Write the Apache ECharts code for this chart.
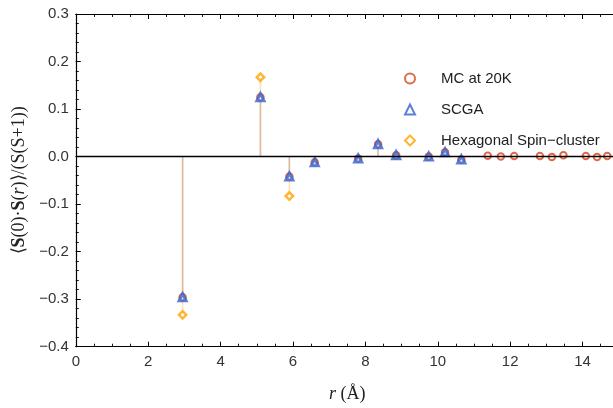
<!DOCTYPE html>
<html>
<head>
<meta charset="utf-8">
<script src="https://cdn.jsdelivr.net/npm/echarts@6/dist/echarts.min.js"></script>
<style>html,body{margin:0;padding:0;background:#fff}#c{width:613px;height:408px}</style>
</head>
<body>
<div id="c"></div>
<script>
// Distances r (Å)
const rMC = [2.95, 5.1, 5.9, 6.6, 7.8, 8.35, 8.85, 9.75, 10.2, 10.65, 11.38, 11.74, 12.11, 12.82, 13.15, 13.47, 14.09, 14.40, 14.68];
const mcVals = [-0.296, 0.125, -0.042, -0.012, -0.004, 0.026, 0.003, 0.000, 0.009, -0.006, 0.002, 0.000, 0.001, 0.001, -0.001, 0.003, 0.001, -0.001, 0.001];
const rSCGA = [2.95, 5.1, 5.9, 6.6, 7.8, 8.35, 8.85, 9.75, 10.2, 10.65];
const scgaVals = [-0.296, 0.125, -0.042, -0.012, -0.004, 0.026, 0.003, 0.000, 0.009, -0.006];
const rHex = [2.95, 5.1, 5.9];
const hexVals = [-0.333, 0.167, -0.083];
const seriesNames = ['MC at 20K', 'SCGA', 'Hexagonal Spin\u2212cluster'];
const xTicks = [0, 2, 4, 6, 8, 10, 12, 14];
const yTicks = [-0.4, -0.3, -0.2, -0.1, 0.0, 0.1, 0.2, 0.3];

const zip = (a, b) => a.map((v, i) => [v, b[i]]);
const RED = '#d4451c', BLUE = '#3560cc', ORANGE = '#ffa200';

function stem(color, width) {
  return function (params, api) {
    const p0 = api.coord([api.value(0), 0]);
    const p1 = api.coord([api.value(0), api.value(1)]);
    return { type: 'line', shape: { x1: p0[0], y1: p0[1], x2: p1[0], y2: p1[1] },
      style: { stroke: color, lineWidth: width } };
  };
}

const fmtY = v => (v < -1e-9 ? '\u2212' : '') + Math.abs(v).toFixed(1);
const frameLine = { show: true, onZero: false, lineStyle: { color: '#000', width: 1.2 } };
const noLine = { show: false, onZero: false };
const majTick = { show: true, inside: true, length: 5, lineStyle: { color: '#000', width: 1 } };
const minTick = { show: true, inside: true, length: 3, lineStyle: { color: '#000', width: 0.9 } };
const SANS = 'Liberation Sans, Arial, sans-serif';
const SERIF = 'Liberation Serif, Times New Roman, serif';

function xAx(pos, major, extra) {
  return Object.assign({
    type: 'value', position: pos, min: 0, max: 15, interval: major ? 2 : 0.5,
    axisLine: major ? frameLine : noLine, axisTick: major ? majTick : minTick,
    splitLine: { show: false }, axisLabel: { show: false }
  }, extra || {});
}
function yAx(pos, major, extra) {
  return Object.assign({
    type: 'value', position: pos, min: -0.4, max: 0.3, interval: major ? 0.1 : 0.02,
    axisLine: major ? frameLine : noLine, axisTick: major ? majTick : minTick,
    splitLine: { show: false }, axisLabel: { show: false }
  }, extra || {});
}

const chart = echarts.init(document.getElementById('c'), null, { renderer: 'canvas' });
chart.setOption({
  animation: false,
  backgroundColor: '#fff',
  grid: { left: 75.8, top: 14, width: 543, bottom: 61.3, containLabel: false, outerBoundsMode: 'none' },
  legend: {
    data: seriesNames,
    orient: 'vertical',
    left: 399, top: 66,
    itemWidth: 10, itemHeight: 10, itemGap: 16,
    textStyle: { fontFamily: SANS, fontSize: 15, color: '#222', padding: [0, 0, 0, 21] }
  },
  xAxis: [
    xAx('bottom', true, {
      axisLabel: { show: true, showMaxLabel: false, margin: 8, fontFamily: SANS, fontSize: 15, color: '#333',
        formatter: v => xTicks.includes(v) ? String(v) : '' },
      name: '{i|r} (Å)', nameLocation: 'middle', nameGap: 39,
      nameTextStyle: { fontFamily: SERIF, fontSize: 18, color: '#222',
        rich: { i: { fontStyle: 'italic', fontFamily: SERIF, fontSize: 18, color: '#222' } } }
    }),
    xAx('bottom', false),
    xAx('top', true),
    xAx('top', false)
  ],
  yAxis: [
    yAx('left', true, {
      axisLabel: { show: true, margin: 7, fontFamily: SANS, fontSize: 15, color: '#333', formatter: fmtY },
      name: '\u27E8{b|S}(0)\u00B7{b|S}({i|r})\u27E9/(S(S+1))', nameLocation: 'middle', nameGap: 36, nameRotate: 90,
      nameTextStyle: { fontFamily: SERIF, fontSize: 18, color: '#222',
        rich: {
          b: { fontWeight: 'bold', fontFamily: SERIF, fontSize: 18, color: '#222' },
          i: { fontStyle: 'italic', fontFamily: SERIF, fontSize: 18, color: '#222' }
        } }
    }),
    yAx('left', false),
    yAx('right', true),
    yAx('right', false)
  ],
  series: [
    { type: 'custom', name: 'hexStem', renderItem: stem('#fde1b4', 1.6), data: zip(rHex, hexVals), z: 1, silent: true },
    { type: 'custom', name: 'mcStem', renderItem: stem('#dcbaa7', 1.6), data: zip(rMC, mcVals), z: 2, silent: true,
      markLine: { silent: true, symbol: 'none', label: { show: false },
        lineStyle: { color: '#000', width: 1.3, type: 'solid' }, data: [{ yAxis: 0 }] } },
    { type: 'scatter', name: seriesNames[0], data: zip(rMC, mcVals), symbol: 'circle', symbolSize: 6.5, z: 3,
      itemStyle: { color: '#fff', borderColor: RED, borderWidth: 2 } },
    { type: 'scatter', name: seriesNames[1], data: zip(rSCGA, scgaVals), symbol: 'triangle', symbolSize: 7, z: 4,
      itemStyle: { color: '#fff', borderColor: BLUE, borderWidth: 3 } },
    { type: 'scatter', name: seriesNames[2], data: zip(rHex, hexVals), symbol: 'diamond', symbolSize: 7.5, z: 5,
      itemStyle: { color: '#fff', borderColor: ORANGE, borderWidth: 2.4 } }
  ]
});
</script>
</body>
</html>
